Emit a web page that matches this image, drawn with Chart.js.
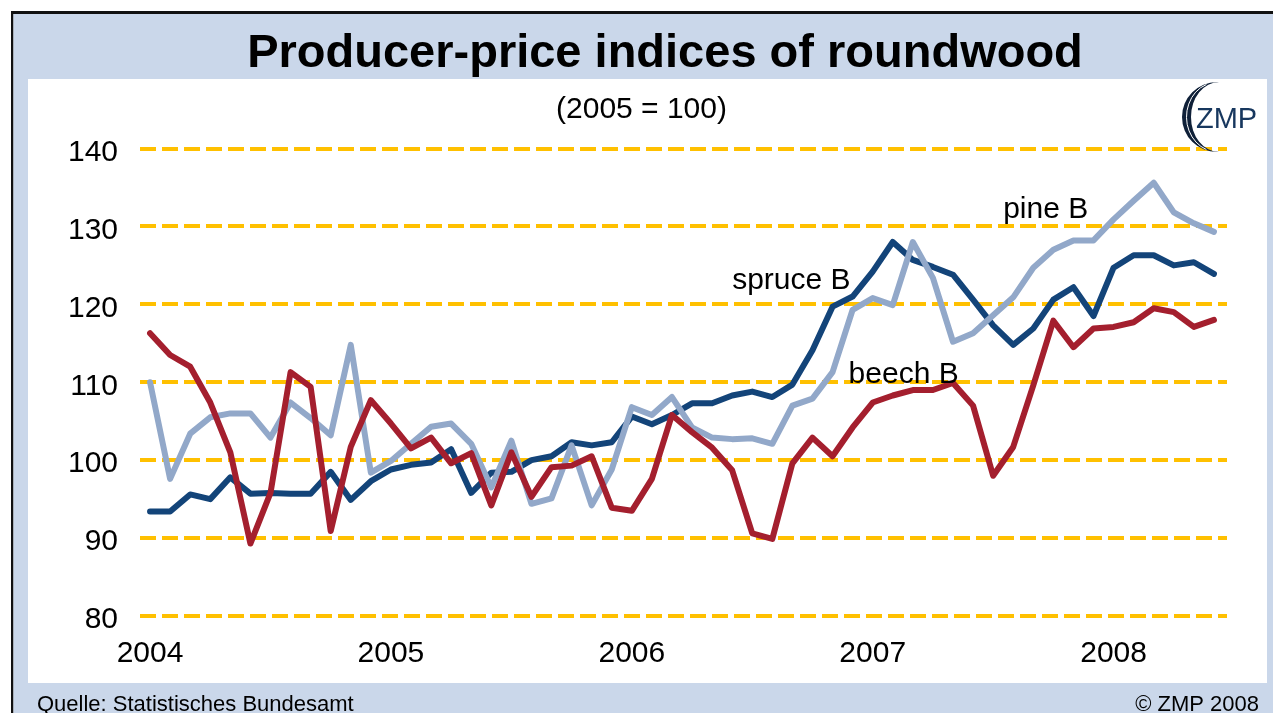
<!DOCTYPE html>
<html>
<head>
<meta charset="utf-8">
<script src="https://cdn.jsdelivr.net/npm/chart.js@4.4.1/dist/chart.umd.min.js"></script>
<style>
  html, body { margin: 0; padding: 0; background: #ffffff; }
  #wrap { position: absolute; left: 0; top: 0; width: 1273px; height: 713px; }
</style>
</head>
<body>
<div id="wrap"><canvas id="c" width="1273" height="713"></canvas></div>
<script>
// ---------- data ----------
const startYear = 2004;
const months = [];
for (let i = 0; i < 54; i++) {
  const y = startYear + Math.floor(i / 12);
  const m = (i % 12) + 1;
  months.push(y + '-' + (m < 10 ? '0' + m : m));
}
const yearLabels = ['2004', '2005', '2006', '2007', '2008'];
const yearTickIndex = [0, 12, 24, 36, 48];
const yTickValues = [80, 90, 100, 110, 120, 130, 140];

const spruceB = [93.4, 93.4, 95.6, 95.0, 97.8, 95.7, 95.8, 95.7, 95.7, 98.5, 94.9, 97.3,
                 98.8, 99.4, 99.7, 101.4, 95.8, 98.4, 98.5, 100.0, 100.5, 102.3, 101.9, 102.3,
                 105.6, 104.6, 105.8, 107.3, 107.3, 108.3, 108.8, 108.1, 109.7, 114.1, 119.7, 121.0,
                 124.2, 128.0, 125.7, 124.8, 123.8, 120.6, 117.3, 114.8, 116.9, 120.6, 122.2, 118.5,
                 124.7, 126.3, 126.3, 125.0, 125.4, 123.9];
const pineB   = [110.0, 97.6, 103.4, 105.5, 106.0, 106.0, 102.9, 107.4, 105.4, 103.2, 114.8, 98.4,
                 99.9, 102.1, 104.3, 104.7, 102.1, 96.5, 102.5, 94.4, 95.1, 101.9, 94.2, 98.8,
                 106.8, 105.8, 108.1, 104.2, 102.9, 102.7, 102.8, 102.1, 107.0, 107.9, 111.3, 119.3,
                 120.8, 119.9, 128.0, 123.4, 115.2, 116.3, 118.6, 120.9, 124.7, 127.0, 128.2, 128.2,
                 130.9, 133.3, 135.6, 131.8, 130.4, 129.3];
const beechB  = [116.3, 113.5, 112.0, 107.4, 101.0, 89.3, 95.8, 111.3, 109.4, 90.9, 101.7, 107.7,
                 104.7, 101.5, 102.9, 99.6, 100.9, 94.2, 101.0, 95.3, 99.1, 99.3, 100.5, 93.9,
                 93.5, 97.6, 105.8, 103.6, 101.6, 98.7, 90.6, 89.9, 99.6, 102.9, 100.5, 104.2,
                 107.4, 108.3, 109.0, 109.0, 109.9, 107.0, 98.0, 101.7, 109.6, 117.9, 114.5, 116.9,
                 117.1, 117.7, 119.5, 119.0, 117.1, 118.0];

const seriesLabels = [
  { text: 'spruce B', x: 29.0, y: 122.0 },
  { text: 'beech B',  x: 34.8, y: 109.9 },
  { text: 'pine B',   x: 42.5, y: 131.1 }
];

const titleText = 'Producer-price indices of roundwood';
const subtitleText = '(2005 = 100)';

const COL_SPRUCE = '#134479';
const COL_PINE = '#92a8c9';
const COL_BEECH = '#a41f2e';
const COL_GRID = '#ffc000';
const COL_FRAME = '#cad7ea';
const FONT = '"Liberation Sans", Arial, Helvetica, sans-serif';

function toPoints(arr) { return arr.map((v, i) => ({ x: i, y: v })); }

// ---------- plugins ----------
const framePlugin = {
  id: 'frame',
  beforeDraw(chart) {
    const ctx = chart.ctx;
    ctx.save();
    ctx.fillStyle = '#ffffff';
    ctx.fillRect(0, 0, 1273, 713);
    ctx.fillStyle = '#111111';
    ctx.fillRect(11, 11, 1262, 3);
    ctx.fillRect(11, 11, 2.5, 702);
    ctx.fillStyle = COL_FRAME;
    ctx.fillRect(13.5, 14, 1259.5, 699);
    ctx.fillStyle = '#ffffff';
    ctx.fillRect(28, 79, 1239, 604);
    ctx.restore();
  },
  afterDraw(chart) {
    const ctx = chart.ctx;
    ctx.save();
    ctx.fillStyle = '#000000';
    ctx.textBaseline = 'alphabetic';
    ctx.textAlign = 'center';
    ctx.font = 'bold 47px ' + FONT;
    ctx.fillText(titleText, 665, 67);
    ctx.font = '30px ' + FONT;
    ctx.fillText(subtitleText, 641.5, 118);

    ctx.font = '22px ' + FONT;
    ctx.textAlign = 'left';
    ctx.fillText('Quelle: Statistisches Bundesamt', 37, 711);
    ctx.textAlign = 'right';
    ctx.fillText('\u00A9 ZMP 2008', 1259, 711);
    // ZMP logo
    ctx.fillStyle = '#0f2038';
    ctx.beginPath();
    ctx.ellipse(1217, 117, 35, 35, 0, Math.PI / 2, Math.PI * 1.5, false);
    ctx.ellipse(1219, 117, 28, 35, 0, Math.PI * 1.5, Math.PI / 2, true);
    ctx.closePath();
    ctx.fill();
    ctx.strokeStyle = '#ffffff';
    ctx.lineWidth = 1;
    ctx.beginPath();
    ctx.ellipse(1218, 117, 31.5, 35, 0, Math.PI * 0.62, Math.PI * 1.38, false);
    ctx.stroke();
    ctx.fillStyle = '#17375e';
    ctx.font = '29px ' + FONT;
    ctx.textAlign = 'left';
    ctx.fillText('ZMP', 1196, 128);
    ctx.restore();
  }
};

const seriesLabelPlugin = {
  id: 'seriesLabels',
  afterDatasetsDraw(chart) {
    const ctx = chart.ctx;
    const xs = chart.scales.x, ys = chart.scales.y;
    ctx.save();
    ctx.fillStyle = '#000000';
    ctx.font = '30px ' + FONT;
    ctx.textAlign = 'left';
    ctx.textBaseline = 'alphabetic';
    seriesLabels.forEach(l => {
      ctx.fillText(l.text, xs.getPixelForValue(l.x), ys.getPixelForValue(l.y));
    });
    ctx.restore();
  }
};

const lineStyle = { borderWidth: 6, pointRadius: 0, tension: 0, fill: false,
                    borderJoinStyle: 'round', borderCapStyle: 'round' };

new Chart(document.getElementById('c'), {
  type: 'line',
  data: {
    labels: months,
    datasets: [
      Object.assign({ label: 'beech B', data: toPoints(beechB), borderColor: COL_BEECH }, lineStyle),
      Object.assign({ label: 'pine B', data: toPoints(pineB), borderColor: COL_PINE }, lineStyle),
      Object.assign({ label: 'spruce B', data: toPoints(spruceB), borderColor: COL_SPRUCE }, lineStyle)
    ]
  },
  options: {
    responsive: false,
    animation: false,
    devicePixelRatio: 1,
    layout: { padding: { top: 148.5, right: 46, bottom: 0, left: 0 } },
    plugins: {
      legend: { display: false },
      tooltip: { enabled: false },
      title: { display: false },
      subtitle: { display: false }
    },
    scales: {
      x: {
        type: 'linear',
        min: -0.5,
        max: 53.65,
        afterBuildTicks(scale) { scale.ticks = yearTickIndex.map(v => ({ value: v })); },
        afterFit(scale) { scale.height = 97; },
        grid: { display: false, drawTicks: false },
        border: { display: false },
        ticks: {
          color: '#000000',
          font: { family: FONT, size: 30 },
          padding: 20,
          maxRotation: 0,
          autoSkip: false,
          callback(v) { const k = yearTickIndex.indexOf(v); return k >= 0 ? yearLabels[k] : ''; }
        }
      },
      y: {
        min: 80,
        max: 140,
        afterBuildTicks(scale) { scale.ticks = yTickValues.map(v => ({ value: v })); },
        afterFit(scale) { scale.width = 140; },
        grid: { color: COL_GRID, lineWidth: 4, drawTicks: false },
        border: { display: false, dash: [16, 6] },
        ticks: {
          color: '#000000',
          font: { family: FONT, size: 30 },
          padding: 22,
          labelOffset: 4,
          callback(v) { return String(v); }
        }
      }
    }
  },
  plugins: [framePlugin, seriesLabelPlugin]
});
</script>
</body>
</html>
